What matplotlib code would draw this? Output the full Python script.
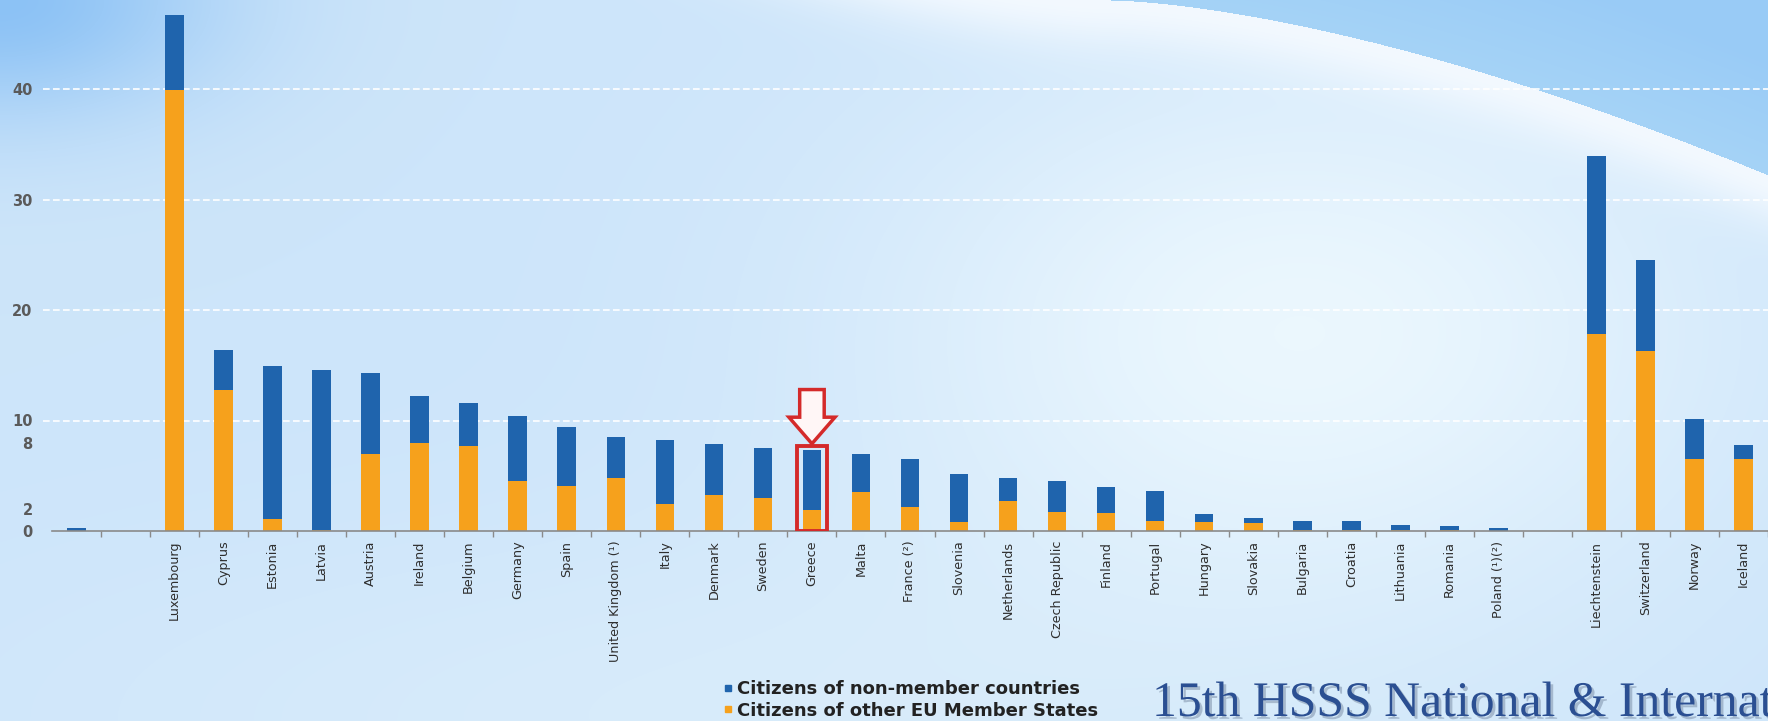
import numpy as np
import matplotlib.pyplot as plt
import matplotlib.patheffects as pe
from matplotlib.lines import Line2D
from matplotlib.patches import Rectangle, Polygon

# Share of foreign citizens in the resident population (%)
countries = ['', '', 'Luxembourg', 'Cyprus', 'Estonia', 'Latvia', 'Austria', 'Ireland',
             'Belgium', 'Germany', 'Spain', 'United Kingdom (¹)', 'Italy', 'Denmark',
             'Sweden', 'Greece', 'Malta', 'France (²)', 'Slovenia', 'Netherlands',
             'Czech Republic', 'Finland', 'Portugal', 'Hungary', 'Slovakia', 'Bulgaria',
             'Croatia', 'Lithuania', 'Romania', 'Poland (¹)(²)', '',
             'Liechtenstein', 'Switzerland', 'Norway', 'Iceland']

other_eu = [0.0, 0.0, 39.9, 12.8, 1.1, 0.1, 7.0, 8.0, 7.7, 4.5, 4.1, 4.8, 2.4, 3.3,
            3.0, 1.9, 3.5, 2.2, 0.8, 2.7, 1.7, 1.6, 0.9, 0.8, 0.75, 0.1, 0.1, 0.05,
            0.05, 0.02, 0.0, 17.8, 16.3, 6.5, 6.5]
non_member = [0.25, 0.0, 6.8, 3.6, 13.8, 14.5, 7.3, 4.2, 3.9, 5.9, 5.3, 3.7, 5.8, 4.6,
              4.5, 5.4, 3.5, 4.3, 4.4, 2.1, 2.8, 2.4, 2.7, 0.7, 0.4, 0.8, 0.8, 0.5,
              0.4, 0.25, 0.0, 16.1, 8.2, 3.6, 1.3]

yticks = [0, 2, 8, 10, 20, 30, 40]
gridlines = [10, 20, 30, 40]
highlight = 'Greece'

BLUE = '#1f64ad'
ORANGE = '#f6a11c'

W, H = 1768, 721
fig = plt.figure(figsize=(W / 100, H / 100), dpi=100)

# slide background: pale blue with a darker corner and a swoosh at the top right
yy, xx = np.mgrid[0:H, 0:W].astype(float)
base = np.array([205, 229, 250], float)
img = np.ones((H, W, 3)) * base
light = np.exp(-(((xx - 1300) / 420) ** 2 + ((yy - 330) / 280) ** 2))
img += light[..., None] * np.array([30, 18, 4])
low = np.exp(-(((xx - 700) / 700) ** 2 + ((yy - 720) / 200) ** 2))
img += low[..., None] * np.array([10, 6, 0])
corner = np.exp(-((xx / 220) ** 2 + (yy / 120) ** 2))
img += corner[..., None] * (np.array([140, 194, 245]) - base)

t = (xx - 1110) / 658
edge = 175 * np.sign(t) * np.abs(t) ** 1.55
d = yy - edge
above = d < 0
swoosh = np.array([165, 211, 246], float)
img[above] = swoosh + (np.clip(-d[above], 0, 120) / 120)[:, None] * np.array([-12, -8, 0])
glow = np.exp(-(np.clip(d, 0, None) / 50) ** 2) * (~above)
img += glow[..., None] * (np.array([243, 249, 255]) - img)
img = np.clip(img, 0, 255) / 255
bg = fig.add_axes([0, 0, 1, 1])
bg.imshow(img, aspect='auto', extent=(0, 1, 0, 1), origin='upper')
bg.axis('off')

# chart area
slot_px = 49.45
left_px, base_px = 52, 531
ax = fig.add_axes([left_px / W, 1 - base_px / H, 1 - left_px / W, base_px / H])
ax.patch.set_alpha(0)
x = np.arange(len(countries))
ax.set_xlim(-0.5, -0.5 + (W - left_px) / slot_px)
ax.set_ylim(0, base_px / 11.05)

for g in gridlines:
    ax.axhline(g, xmin=-0.005, color='white', lw=1.2, ls=(0, (4, 2)), zorder=0,
               clip_on=False)

ax.bar(x, other_eu, width=0.38, color=ORANGE, zorder=2)
ax.bar(x, non_member, width=0.38, bottom=other_eu, color=BLUE, zorder=2)

# highlight box and arrow over one country
i = countries.index(highlight)
total = other_eu[i] + non_member[i]
ax.add_patch(Rectangle((i - 0.31, 0), 0.62, total + 0.35, fill=False,
                       edgecolor='#d42a2a', lw=2.8, zorder=3))
tip = total + 0.6
arrow = [(i - 0.25, tip + 4.9), (i + 0.25, tip + 4.9), (i + 0.25, tip + 2.4),
         (i + 0.47, tip + 2.4), (i, tip), (i - 0.47, tip + 2.4), (i - 0.25, tip + 2.4)]
ax.add_patch(Polygon(arrow, closed=True, facecolor='#fff6f6', edgecolor='#d42a2a',
                     lw=2.5, zorder=3))

for s in ['top', 'right', 'left']:
    ax.spines[s].set_visible(False)
ax.spines['bottom'].set_color('#8a8a8a')
ax.spines['bottom'].set_linewidth(1.2)

ax.set_yticks(yticks)
ax.set_yticklabels([str(v) for v in yticks], color='#5a5a5a', fontsize=10.5,
                   fontweight='bold')
ax.tick_params(axis='y', length=0, pad=14)

ax.set_xticks(x)
ax.set_xticklabels(countries, rotation=90, fontsize=9.2, color='#2e2e2e')
ax.tick_params(axis='x', which='major', length=0, pad=7)
ax.set_xticks(np.arange(len(countries)) + 0.5, minor=True)
ax.tick_params(axis='x', which='minor', length=4, width=1, color='#8a8a8a',
               direction='out')

# legend
handles = [Line2D([], [], marker='s', ls='', color=BLUE, markersize=5),
           Line2D([], [], marker='s', ls='', color=ORANGE, markersize=5)]
fig.legend(handles, ['Citizens of non-member countries',
                     'Citizens of other EU Member States'],
           loc='center left', bbox_to_anchor=(722 / W, 1 - 700 / H), frameon=False,
           handletextpad=0.15, handlelength=0.7, labelspacing=0.2,
           prop={'weight': 'bold', 'size': 13}, labelcolor='#222222',
           borderpad=0, borderaxespad=0)

fig.text(1152 / W, 1 - 716 / H, '15th HSSS National & International',
         fontsize=35.8, color='#2b4f92', family='Liberation Serif', va='baseline',
         path_effects=[pe.withSimplePatchShadow(offset=(2, -2), shadow_rgbFace='#6d7f99',
                                                alpha=0.45)])

fig.savefig('out.png', dpi=100)
